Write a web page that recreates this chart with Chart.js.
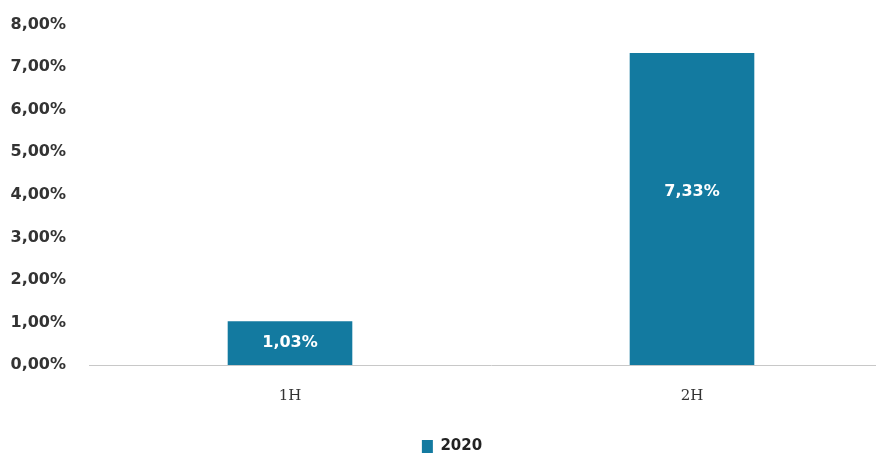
<!DOCTYPE html>
<html>
<head>
<meta charset="utf-8">
<script src="https://cdn.jsdelivr.net/npm/chart.js@4"></script>
<style>
  html, body { margin: 0; padding: 0; background: #fff; overflow: hidden; }
  #wrap { width: 876px; height: 454px; overflow: hidden; }
</style>
</head>
<body>
<div id="wrap"><canvas id="chart" width="920" height="454"></canvas></div>
<script>
// dati del grafico
const periodi = ['1H', '2H'];
const serie2020 = [1.03, 7.33];
const nomeSerie = '2020';

const fmt = v => v.toFixed(2).replace('.', ',') + '%';

// etichette bianche dentro le barre
const etichette = {
  id: 'etichette',
  afterDatasetsDraw(chart) {
    const ctx = chart.ctx;
    ctx.save();
    ctx.fillStyle = '#ffffff';
    ctx.font = 'bold 16px "DejaVu Sans", sans-serif';
    ctx.textAlign = 'center';
    ctx.textBaseline = 'middle';
    chart.getDatasetMeta(0).data.forEach((bar, i) => {
      const y = (bar.y + bar.base) / 2 - (i == 1 ? 17 : 0);
      ctx.fillText(fmt(serie2020[i]), bar.x, y);
    });
    ctx.restore();
  }
};

const config = {
  type: 'bar',
  data: {
    labels: periodi,
    datasets: [{
      label: nomeSerie,
      data: serie2020,
      backgroundColor: '#137aa0',
      categoryPercentage: 0.31,
      barPercentage: 1
    }]
  },
  options: {
    responsive: false,
    animation: false,
    layout: { padding: { left: 11, right: 27, top: 19, bottom: -10 } },
    plugins: {
      tooltip: { enabled: false },
      legend: {
        position: 'bottom',
        labels: {
          boxWidth: 11, boxHeight: 13,
          padding: 3,
          color: '#222',
          font: { family: '"DejaVu Sans", sans-serif', size: 15, weight: 'bold' }
        }
      }
    },
    scales: {
      x: {
        grid: { display: false },
        border: { display: true, color: '#c8c8c8' },
        afterFit: s => { s.height = 71; },
        ticks: {
          color: '#333',
          padding: 14,
          font: { family: '"DejaVu Serif", serif', size: 15 }
        }
      },
      y: {
        min: 0, max: 8,
        grid: { display: false },
        border: { display: false },
        afterFit: s => { s.width = 78; },
        ticks: {
          stepSize: 1,
          color: '#333',
          padding: 15,
          font: { family: '"DejaVu Sans", sans-serif', size: 16, weight: 'bold' },
          callback: v => fmt(v)
        }
      }
    }
  },
  plugins: [etichette]
};

new Chart(document.querySelector('#chart'), config);
</script>
</body>
</html>
